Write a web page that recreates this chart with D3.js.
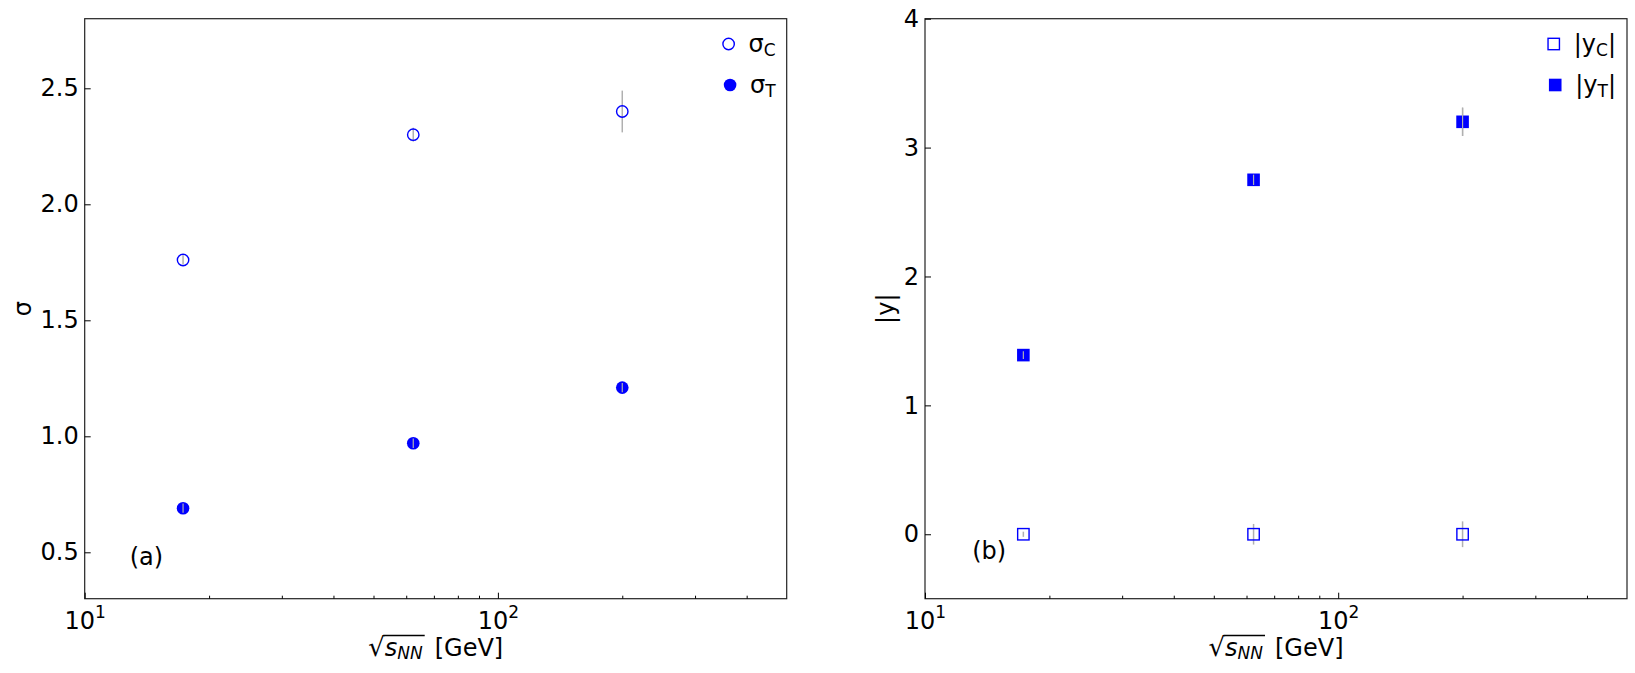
<!DOCTYPE html>
<html>
<head>
<meta charset="utf-8">
<script src="https://cdn.jsdelivr.net/npm/d3@7"></script>
<style>
  body { margin: 0; background: #fff; }
  text { font-family: "DejaVu Sans", sans-serif; fill: #000; }
</style>
</head>
<body>
<svg id="chart" width="1635" height="673"></svg>
<script>
// collision energies, sqrt(s_NN) in GeV
var energies = [17.3, 62.4, 200];

// panel (a): widths
var sigmaC = [1.76, 2.30, 2.40];
var sigmaCErr = [0.02, 0.03, 0.09];
var sigmaT = [0.69, 0.97, 1.21];
var sigmaTErr = [0.02, 0.02, 0.02];

// panel (b): rapidity positions
var yC = [0, 0, 0];
var yCErr = [0.02, 0.08, 0.10];
var yT = [1.39, 2.75, 3.20];
var yTErr = [0.03, 0.04, 0.11];

var xMajorTicks = [10, 100];
var xMinorTicks = [20, 30, 40, 50, 60, 70, 80, 90, 200, 300, 400];
var sigmaTicks = [0.5, 1.0, 1.5, 2.0, 2.5];
var rapTicks = [0, 1, 2, 3, 4];

var blue = "#0000ff", errCol = "#b0b0b0";
var fs = 24, fsSub = 17;
var svg = d3.select("#chart");

function panel(opt){
  var g = svg.append("g");
  var x = d3.scaleLog().domain([10, 500]).range([opt.left, opt.left + 702]);
  var y = d3.scaleLinear().domain(opt.yDomain).range([598.7, 18.7]);

  // frame
  g.append("rect")
    .attr("x", x.range()[0]).attr("y", y.range()[1])
    .attr("width", x.range()[1] - x.range()[0]).attr("height", y.range()[0] - y.range()[1])
    .attr("fill", "none").attr("stroke", "#222").attr("stroke-width", 1.2);

  // y axis, ticks pointing inward
  var ya = g.append("g").attr("transform", "translate(" + x.range()[0] + ",0)")
    .call(d3.axisLeft(y).tickValues(opt.yTicks).tickFormat(opt.yFormat)
      .tickSizeInner(-6).tickSizeOuter(0).tickPadding(6));
  ya.select(".domain").remove();
  ya.selectAll("text").attr("font-size", fs).style("font-family", "DejaVu Sans");

  // x axis, log with major/minor
  var xa = g.append("g").attr("transform", "translate(0," + y.range()[0] + ")")
    .call(d3.axisBottom(x).tickValues(xMajorTicks).tickFormat("")
      .tickSizeInner(-6).tickSizeOuter(0).tickPadding(6));
  xa.select(".domain").remove();
  xa.selectAll(".tick text").each(function(d){
    var t = d3.select(this).attr("font-size", fs).style("font-family", "DejaVu Sans")
      .attr("dy", "1.0em");
    t.append("tspan").text("10");
    t.append("tspan").attr("font-size", fsSub).attr("dy", -11).text(Math.round(Math.log10(d)));
  });
  var xm = g.append("g").attr("transform", "translate(0," + y.range()[0] + ")")
    .call(d3.axisBottom(x).tickValues(xMinorTicks).tickFormat("").tickSizeInner(-3).tickSizeOuter(0));
  xm.select(".domain").remove();
  g.selectAll(".tick line").attr("stroke", "#000");

  // axis titles
  g.append("text")
    .attr("transform", "translate(" + opt.yLabelX + "," + (y.range()[1] + y.range()[0]) / 2 + ") rotate(-90)")
    .attr("text-anchor", "middle").attr("dy", "0.35em").attr("font-size", fs).text(opt.yLabel);

  var xl = g.append("text").attr("font-size", fs).attr("y", 656)
    .attr("x", (x.range()[0] + x.range()[1]) / 2).attr("text-anchor", "middle");
  xl.append("tspan").attr("font-size", 26).text("\u221A");
  xl.append("tspan").attr("font-style", "italic").text("s");
  xl.append("tspan").attr("font-style", "italic").attr("font-size", fsSub).attr("dy", 3).text("NN");
  xl.append("tspan").attr("dy", -3).text("\u2002[GeV]");
  var n = xl.node();
  var a = n.getExtentOfChar(0), b = n.getExtentOfChar(3);
  g.append("line").attr("x1", a.x + a.width - 1.5).attr("x2", b.x + b.width + 2)
    .attr("y1", 635.5).attr("y2", 635.5).attr("stroke", "#000").attr("stroke-width", 1.3);

  // panel tag
  g.append("text").attr("x", x(opt.tagAt[0])).attr("y", y(opt.tagAt[1]))
    .attr("text-anchor", "middle").attr("dy", "0.35em").attr("font-size", fs).text(opt.tag);

  // series
  opt.series.forEach(function(s){
    var pts = energies.map(function(e, i){ return {x: e, y: s.values[i], err: s.errors[i]}; });
    g.append("g").selectAll("line").data(pts).join("line")
      .attr("x1", function(d){ return x(d.x); }).attr("x2", function(d){ return x(d.x); })
      .attr("y1", function(d){ return y(d.y - d.err); }).attr("y2", function(d){ return y(d.y + d.err); })
      .attr("stroke", errCol).attr("stroke-width", 1.5);
    var mg = g.append("g");
    pts.forEach(function(d){ drawMarker(mg, s, x(d.x), y(d.y)); });
    // error bar drawn again over filled markers so it shows through
    if (s.filled) {
      g.append("g").selectAll("line").data(pts).join("line")
        .attr("x1", function(d){ return x(d.x); }).attr("x2", function(d){ return x(d.x); })
        .attr("y1", function(d){ return y(d.y - d.err); }).attr("y2", function(d){ return y(d.y + d.err); })
        .attr("stroke", errCol).attr("stroke-width", 1.2);
    }
  });

  // legend, right aligned inside the frame
  var lg = g.append("g");
  var right = x.range()[1] - 11;
  opt.series.forEach(function(s, i){
    var ly = 44 + i * 41;
    var t = lg.append("text").attr("y", ly).attr("dy", "0.35em").attr("font-size", fs)
      .attr("text-anchor", "end").attr("x", right);
    s.label(t);
    var w = t.node().getComputedTextLength();
    drawMarker(lg, s, right - w - 20, ly);
  });
}

function drawMarker(g, s, cx, cy){
  if (s.shape === "circle") {
    g.append("circle").attr("cx", cx).attr("cy", cy).attr("r", s.filled ? 6.3 : 5.7)
      .attr("fill", s.filled ? blue : "none").attr("stroke", blue).attr("stroke-width", s.filled ? 0 : 1.4);
  } else {
    var h = s.filled ? 6.3 : 5.7;
    g.append("rect").attr("x", cx - h).attr("y", cy - h).attr("width", 2 * h).attr("height", 2 * h)
      .attr("fill", s.filled ? blue : "none").attr("stroke", blue).attr("stroke-width", s.filled ? 0 : 1.4);
  }
}

function subLabel(main, sub, bars){
  return function(t){
    if (bars) t.append("tspan").text("|");
    t.append("tspan").text(main);
    t.append("tspan").attr("font-size", fsSub).attr("dy", 4).text(sub);
    if (bars) t.append("tspan").attr("dy", -4).text("|");
  };
}

panel({
  left: 84.7, yDomain: [0.3, 2.8], yTicks: sigmaTicks, yFormat: d3.format(".1f"),
  yLabel: "\u03C3", yLabelX: 23, tag: "(a)", tagAt: [14.1, 0.48],
  series: [
    {values: sigmaC, errors: sigmaCErr, shape: "circle", filled: false, label: subLabel("\u03C3", "C")},
    {values: sigmaT, errors: sigmaTErr, shape: "circle", filled: true, label: subLabel("\u03C3", "T")}
  ]
});

panel({
  left: 925, yDomain: [-0.5, 4], yTicks: rapTicks, yFormat: d3.format("d"),
  yLabel: "|y|", yLabelX: 886, tag: "(b)", tagAt: [14.3, -0.13],
  series: [
    {values: yC, errors: yCErr, shape: "square", filled: false, label: subLabel("y", "C", true)},
    {values: yT, errors: yTErr, shape: "square", filled: true, label: subLabel("y", "T", true)}
  ]
});
</script>
</body>
</html>
